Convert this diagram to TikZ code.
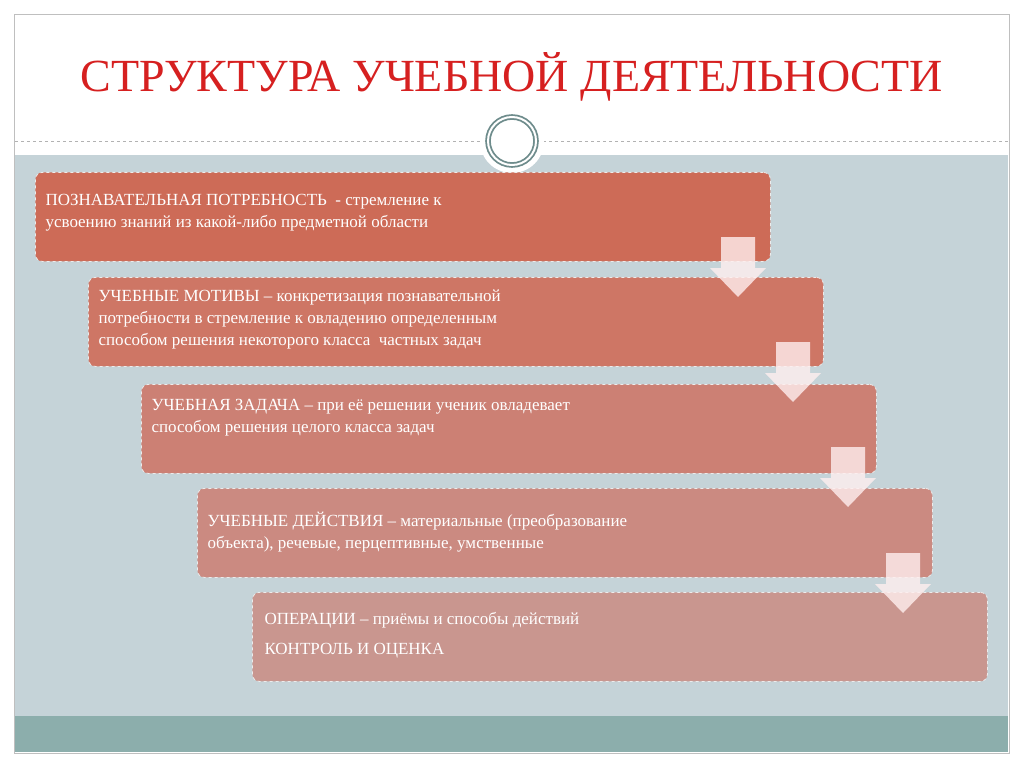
\documentclass[tikz,border=0pt]{standalone}
\usepackage{fontspec}
\setmainfont{Liberation Serif}
\begin{document}
\begin{tikzpicture}[x=1pt,y=-1pt,
  stage/.style={draw=white!85!gray,dashed,line width=0.8pt,rounded corners=7pt,anchor=north west,
    minimum width=735pt,minimum height=89pt,inner sep=0pt},
  btext/.style={anchor=north west,align=left,text=white,font=\fontsize{17}{22}\selectfont},
  darrow/.style={fill=white!75!pink,opacity=0.8,draw=none}]
\useasboundingbox (0,0) rectangle (1024,767);
\fill[white] (0,0) rectangle (1024,767);
\draw[gray!50,line width=0.8pt] (14,14) rectangle (1009,753);
\fill[fill={rgb,255:red,197;green,211;blue,216}] (15,155) rectangle (1008,716);
\fill[fill={rgb,255:red,140;green,174;blue,172}] (15,716) rectangle (1008,752);
\draw[gray!60,dashed,line width=0.6pt] (15,141) -- (1008,141);
\node[font=\fontsize{46}{50}\selectfont,text={rgb,255:red,214;green,32;blue,32}] (title) at (512,77) {СТРУКТУРА УЧЕБНОЙ ДЕЯТЕЛЬНОСТИ};
\fill[white] (512,141) circle (32);
\node[circle,draw={rgb,255:red,110;green,140;blue,140},double=white,double distance=2pt,line width=1.8pt,minimum size=48pt] (ring) at (512,141) {};
\node[stage,fill={rgb,255:red,205;green,107;blue,87}] (b1) at (35,172) {};
\node[stage,fill={rgb,255:red,206;green,118;blue,101}] (b2) at (88,277) {};
\node[stage,fill={rgb,255:red,204;green,128;blue,116}] (b3) at (141,384) {};
\node[stage,fill={rgb,255:red,203;green,138;blue,129}] (b4) at (197,488) {};
\node[stage,fill={rgb,255:red,201;green,150;blue,143}] (b5) at (252,592) {};
\foreach \a/\x/\y in {b1/738/237,b2/793/342,b3/848/447,b4/903/553}{
  \fill[darrow] (\x-17,\y) -- (\x+17,\y) -- (\x+17,\y+31) -- (\x+28,\y+31) -- (\x,\y+60) -- (\x-28,\y+31) -- (\x-17,\y+31) -- cycle;
}
\node[btext] (t1) at (42,191) {ПОЗНАВАТЕЛЬНАЯ ПОТРЕБНОСТЬ\ \ - стремление к\\усвоению знаний из какой-либо предметной области};
\node[btext] (t2) at (95,286) {УЧЕБНЫЕ МОТИВЫ – конкретизация познавательной\\потребности в стремление к овладению определенным\\способом решения некоторого класса\ \ частных задач};
\node[btext] (t3) at (148,396) {УЧЕБНАЯ ЗАДАЧА – при её решении ученик овладевает\\способом решения целого класса задач};
\node[btext] (t4) at (204,509) {УЧЕБНЫЕ ДЕЙСТВИЯ – материальные (преобразование\\объекта), речевые, перцептивные, умственные};
\node[btext,font=\fontsize{17}{30}\selectfont] (t5) at (261,609) {ОПЕРАЦИИ – приёмы и способы действий\\КОНТРОЛЬ И ОЦЕНКА};
\end{tikzpicture}
\end{document}
